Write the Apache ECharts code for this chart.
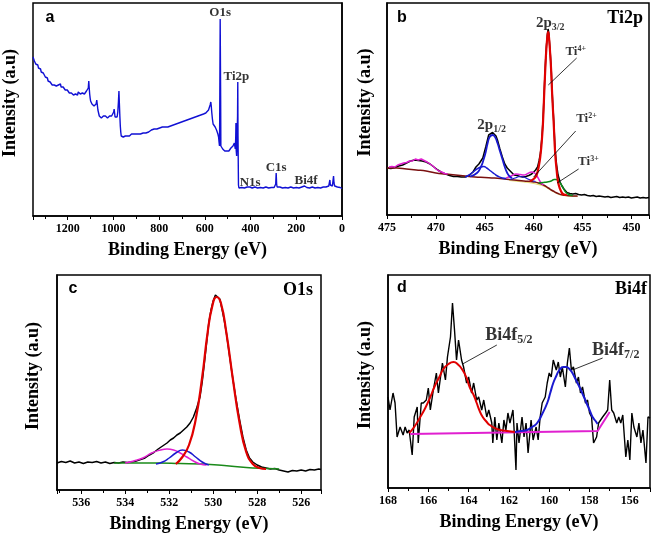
<!DOCTYPE html>
<html><head><meta charset="utf-8">
<script src="https://cdn.jsdelivr.net/npm/echarts@6/dist/echarts.min.js"></script>
<style>html,body{margin:0;padding:0;background:#fff}#c{width:653px;height:537px}</style>
</head><body><div id="c"></div>
<script>
// ---------- DATA (binding energy eV, intensity a.u.) ----------
const surveyData = [
[1352,159],[1349,157],[1346,155],[1343,156],[1340,152],[1337,153],[1334,150],[1331,151],[1328,148],[1325,149],[1322,146],[1319,147],[1316,144],[1313,145],[1310,142],[1307,143],[1304,141],[1301,142],[1298,139],[1295,140],[1292,137],[1289,138],[1286,135],[1283,136],[1280,133],[1277,134],[1274,132],[1271,133],[1268,131],[1265,132],[1262,130],[1259,131],[1256,129],[1253,131],[1250,130],[1247,132],[1244,130],[1241,131],[1238,129],[1235,130],[1232,132],[1229,129],[1226,131],[1223,128],[1220,129],[1217,127],[1214,128],[1211,126],[1208,127],[1205,125],[1202,126],[1199,124],[1196,125],[1193,123],[1190,124],[1187,122],[1184,123],[1181,121],[1178,122],[1175,121],[1172,123],[1169,121],[1166,122],[1163,121],[1160,123],[1157,121],[1154,124],[1151,122],[1148,125],[1145,122],[1142,124],[1139,122],[1136,123],[1133,121],[1130,123],[1127,122],[1124,124],[1121,123],[1118,125],[1115,124],[1112,126],[1110,128],[1108,135],[1106,128],[1104,122],[1102,118],[1100,115],[1097,113],[1094,112],[1091,111],[1088,112],[1085,110],[1082,111],[1079,110],[1076,112],[1073,116],[1071,112],[1068,106],[1065,103],[1062,100],[1059,99],[1056,100],[1053,98],[1050,99],[1047,98],[1044,100],[1041,99],[1038,98],[1035,100],[1032,98],[1029,99],[1026,98],[1023,100],[1020,99],[1017,100],[1014,99],[1011,101],[1008,100],[1005,102],[1002,101],[999,104],[997,107],[995,103],[993,99],[990,98],[987,97],[984,99],[981,104],[978,115],[976,125],[974,112],[972,100],[970,90],[968,84],[966,80],[963,79],[960,78],[957,79],[954,77],[951,78],[948,80],[945,78],[942,79],[939,80],[936,79],[933,81],[930,80],[927,81],[924,80],[921,82],[918,81],[915,80],[912,82],[909,81],[906,83],[903,82],[900,81],
[894,82],[888,83],[882,82],[876,84],[870,83],[864,84],[858,83],[852,85],[846,84],[840,85],[834,86],[828,85],[822,87],[816,86],[810,87],[804,86],[798,88],[792,87],[786,89],[780,88],[774,89],[768,90],[762,89],[756,91],[750,90],[744,92],[738,91],[732,93],[726,92],[720,94],[714,93],[708,95],[702,94],[696,96],[690,95],[684,97],[678,96],[672,98],[666,97],[660,99],[654,98],[648,100],[642,99],[636,101],[630,100],[624,102],[618,101],[612,103],[606,102],[600,104],[596,103],[592,105],[588,104],[584,106],[580,108],[577,111],[574,114],[572,110],[570,104],[567,97],[564,92],[561,90],[558,91],[555,89],[552,88],[549,86],[546,84],[543,82],[540,79],[538,74],[536,70],[535,100],[533,197],[531,120],[530,70],[528,68],[525,69],[522,67],[519,66],[516,67],[513,65],[510,66],[507,64],[504,65],[501,64],[498,66],[495,65],[492,67],[489,66],[486,68],[483,67],[480,69],[477,70],[474,71],[471,73],[469,72],[467,67],[465,78],[464,93],[463,66],[461,60],[459,62],[457,100],[456,134],[455,80],[453,31],[451,28],[447,29],[443,28],[439,28.5],[435,28],[431,29],[427,28],[423,28.5],[419,28],[415,29],[411,28],[407,28.5],[403,29],[400,31],[397,29],[393,28],[389,28.5],[385,28],[381,29],[377,28],[373,28.5],[369,28],[365,29],[361,28],[357,28.5],[353,28],[349,29],[345,28],[341,28.5],[337,28],[333,29],[329,28],[325,28.5],[321,28],[317,29],[313,28],[309,28.5],[305,28],[301,29],[297,28.5],[293,29],[290,32],[288,43],[286,32],[284,29],[280,28.5],[276,28],[272,29],[268,28],[264,28.5],[260,28],[256,29],[252,28],[248,28.5],[244,28],[240,29],[236,28],[232,28.5],[228,28],[224,29],[220,28],[216,28.5],[212,28],[208,29],[204,28],[200,28.5],[196,28],[192,29],[188,28],[184,28.5],[180,28],[176,29],[172,28.5],[168,29],[164,30],[161,31],[158,29],[154,28.5],[150,28],[146,29],[142,28],[138,28.5],[134,28],[130,29],[126,28],[122,28.5],[118,28],[114,29],[110,28],[106,28.5],[102,28],[98,29],[94,28],[90,28.5],[86,28],[82,29],[78,28],[74,28.5],[70,29],[66,28.5],[62,29],[58,30],[55,31],[53,36],[51,31],[48,30],[45,31],[42,30],[39,32],[37,40],[35,33],[32,30],[28,29],[24,29.5],[20,29],[16,28.5],[12,28],[8,28.5],[4,27.5],[0,27.5]
];
const surveyLabels = [["O1s",533,203],["Ti2p",462,139],["N1s",402,33],["C1s",288,48],["Bi4f",157,35]];

const ti2pRaw = [
[475.0,47],[474.8,47.5],[474.6,46.5],[474.4,48],[474.2,47.5],[474.0,48.5],[473.8,49],[473.6,50.5],[473.4,50],[473.2,51.5],[473.0,52],[472.8,52.5],[472.6,54],[472.4,53.5],[472.2,55],[472.0,55.5],[471.8,54.5],[471.6,55.5],[471.4,54],[471.2,54.5],[471.0,53],[470.8,52],[470.6,51],[470.4,49],[470.2,48],[470.0,46.5],[469.8,45],[469.6,44],[469.4,42.5],[469.2,42],[469.0,41],[468.8,40],[468.6,39.5],[468.4,39],[468.2,38.5],[468.0,38],[467.8,38.5],[467.6,37.5],[467.4,38],[467.2,38.5],[467.0,38],[466.8,39],[466.6,39.5],[466.4,41],[466.2,43],[465.9,48],[465.6,51],[465.4,53],[465.2,57],[464.9,68],[464.6,80],[464.4,82],[464.2,82.5],[464.0,82],[463.85,79],[463.7,75],[463.45,66],[463.2,58],[462.95,51],[462.7,47],[462.4,44],[462.0,40],[461.7,39.5],[461.4,38.5],[461.1,38],[460.8,38.5],[460.5,39.5],[460.2,41],[460.0,43],[459.8,45],[459.6,48],[459.45,54],[459.3,62],[459.15,78],[459.04,95],[458.9,128],[458.8,150],[458.7,168],[458.6,180],[458.52,186],[458.45,182],[458.3,162],[458.2,145],[458.13,128],[458.05,112],[457.95,95],[457.8,65],[457.65,50],[457.5,40],[457.3,33],[457.1,29],[456.9,26],[456.6,22.5],[456.3,21.5],[456.0,21],[455.7,21.5],[455.4,20.5],[455.1,20],[454.8,20.5],[454.5,19.5],[454.2,19],[453.9,19.5],[453.6,18.5],[453.3,19],[453.0,18.5],[452.7,18],[452.4,18.5],[452.1,17.5],[451.8,18],[451.5,18.5],[451.2,17.5],[450.9,18],[450.6,17.5],[450.3,18],[450.0,17],[449.7,17.5],[449.4,18],[449.1,17],[448.8,17.5],[448.5,17],[448.2,17.5]
];
const ti2pBackground = [[475,47],[474,47],[473,46],[472,45],[471,44],[470,42],[469,41],[468,40],[467,39],[466,38],[465,37.5],[464,37],[463,36],[462,35],[461,34],[460,33],[459.5,32],[459,30],[458.5,27],[458,24],[457.5,21.5],[457,20],[456,19],[455.5,19]];
const ti2pSatellite = [[474.8,48],[474.5,48.5],[474.2,48],[473.9,50],[473.6,51],[473.3,52],[473.0,52.5],[472.7,54],[472.4,54],[472.1,56],[471.8,55],[471.5,56],[471.2,54.5],[470.9,53],[470.6,51],[470.3,49],[470.0,46],[469.7,44],[469.4,43],[469.1,41.5],[468.8,41]];
const ti2pMagenta = [[462.8,37],[462.3,39],[461.8,41],[461.4,40.5],[461.0,40],[460.6,41.5],[460.2,43],[459.9,42],[459.6,38],[459.3,33],[459.0,30]];
const ti2pBlueMain = [[466.5,38.5],[465.8,42],[465.4,48],[465.1,56],[464.9,63],[464.7,72],[464.5,78],[464.2,80],[463.95,78],[463.7,72],[463.45,64],[463.2,56],[462.95,48],[462.7,42],[462.45,38.5],[462.2,37]];
const ti2pBlueSmall = [[467.0,38],[466.6,40],[466.2,43],[465.8,46],[465.4,48],[465.1,48.5],[464.8,47],[464.4,44],[464.0,41],[463.6,38.5],[463.2,37],[462.8,36.5]];
const ti2pBlueTi3 = [[462.4,35.5],[461.9,37],[461.4,38.5],[461.0,38],[460.6,36],[460.2,34.5],[459.8,33.5]];
const ti2pRed = [[460.4,34],[460.0,36],[459.7,40],[459.45,50],[459.3,60],[459.15,76],[459.04,93],[458.9,126],[458.8,148],[458.7,166],[458.6,178],[458.52,183],[458.45,180],[458.3,160],[458.2,143],[458.13,126],[458.05,110],[457.95,92],[457.8,62],[457.65,45],[457.5,33],[457.3,26],[457.1,22],[456.9,20.5],[456.6,20]];
const ti2pGreen = [[459.5,32],[459.0,32.5],[458.6,33],[458.2,34],[457.9,35.5],[457.7,35.5],[457.4,33.5],[457.1,29],[456.8,24],[456.5,21],[456.0,19.5]];
const ti2pYellow = [[462.5,34.5],[461,33],[460,31.5],[459,29],[458,23.5],[457,19.5],[455.5,18.5]];

const o1sRaw = [[537.1,27],[536.9,28.5],[536.7,27.5],[536.5,29],[536.3,27],[536.1,28],[535.9,26.5],[535.7,28],[535.5,27.5],[535.3,28.5],[535.1,27],[534.9,28],[534.7,26.5],[534.5,27.5],[534.3,27],[534.1,28],[533.9,27.5],[533.7,28],[533.5,29],[533.3,30.5],[533.1,32],[532.9,35],[532.7,37.5],[532.5,41],[532.3,44],[532.1,47],[531.95,50],[531.8,52],[531.65,55],[531.5,57],[531.35,60],[531.2,63],[531.05,67],[530.9,73],[530.75,82],[530.6,93],[530.5,108],[530.4,127],[530.3,147],[530.2,167],[530.1,180],[530.0,189],[529.9,195],[529.82,197],[529.7,191],[529.6,181],[529.5,170],[529.4,157],[529.25,133],[529.1,110],[528.95,89],[528.8,70],[528.65,53],[528.5,40],[528.35,32],[528.2,28],[528.0,25],[527.8,23],[527.6,22],[527.4,21],[527.2,21.5],[527.0,20],[526.8,19],[526.6,18],[526.4,19.5],[526.2,19],[526.0,20],[525.8,19],[525.6,20.5],[525.4,20],[525.2,21],[525.1,20.5]];
const o1sRed = [[531.7,26],[531.4,33],[531.1,45],[530.8,70],[530.5,113],[530.25,158],[530.05,183],[529.85,193],[529.65,187],[529.4,157],[529.1,110],[528.8,67],[528.5,38],[528.2,26],[527.9,22],[527.6,21]];
const o1sMagenta = [[534.0,27],[533.6,29],[533.2,32],[532.8,37],[532.4,40],[532.1,41],[531.8,40],[531.5,37],[531.2,33],[530.9,29],[530.6,26],[530.3,25]];
const o1sBlue = [[532.6,26],[532.3,28],[532.0,32],[531.7,37],[531.4,40],[531.1,38],[530.8,33],[530.5,28],[530.2,25]];
const o1sGreen = [[534.5,27],[533.5,27],[532.5,27],[531.5,26.5],[530.5,26],[529.5,24.5],[528.5,22.5],[527.5,21.5],[527.0,21]];

const bi4fRaw = [[168.0,91],[167.9,78],[167.75,95],[167.65,85],[167.55,51],[167.4,61],[167.25,53],[167.15,61],[167.05,55],[166.95,58],[166.8,33],[166.7,71],[166.55,81],[166.5,45],[166.35,85],[166.25,85],[166.1,88],[166.0,100],[165.9,78],[165.75,98],[165.6,115],[165.5,95],[165.4,110],[165.3,125],[165.15,108],[165.05,131],[164.9,151],[164.8,185],[164.7,158],[164.6,128],[164.5,148],[164.35,128],[164.25,121],[164.1,105],[164.0,111],[163.85,95],[163.75,105],[163.6,88],[163.5,91],[163.35,78],[163.25,88],[163.1,71],[163.0,78],[162.85,65],[162.8,45],[162.7,71],[162.6,48],[162.5,65],[162.35,45],[162.25,68],[162.15,58],[162.05,75],[161.95,65],[161.8,78],[161.75,61],[161.65,18],[161.6,65],[161.5,45],[161.35,71],[161.25,51],[161.15,65],[161.05,35],[160.9,68],[160.8,48],[160.65,61],[160.55,48],[160.45,71],[160.35,85],[160.2,91],[160.1,105],[160.0,115],[159.9,111],[159.8,128],[159.65,118],[159.55,126],[159.45,111],[159.35,121],[159.2,101],[159.1,125],[159.0,140],[158.9,118],[158.8,121],[158.65,105],[158.55,111],[158.45,95],[158.35,101],[158.2,85],[158.1,88],[158.0,75],[157.9,71],[157.8,45],[157.65,51],[157.55,65],[157.45,68],[157.35,71],[157.2,75],[157.1,78],[157.0,108],[156.9,78],[156.8,75],[156.65,65],[156.55,71],[156.45,65],[156.35,73],[156.2,31],[156.1,48],[156.0,28],[155.9,75],[155.8,61],[155.65,51],[155.55,65],[155.45,45],[155.35,58],[155.2,25],[155.1,71],[155.0,70]];
const bi4fRed = [[166.95,55],[166.7,61],[166.4,71],[166.15,80],[165.9,91],[165.7,101],[165.45,111],[165.25,119],[165.0,124],[164.75,126],[164.5,123],[164.3,118],[164.1,110],[163.95,101],[163.75,93],[163.6,85],[163.45,77],[163.3,71],[163.1,66],[162.95,63],[162.6,59],[162.1,57],[161.7,56]];
const bi4fBlue = [[161.7,56],[161.4,57],[161.1,58],[160.85,61],[160.6,65],[160.35,74],[160.1,85],[159.95,95],[159.8,105],[159.65,112],[159.5,118],[159.3,121],[159.15,121],[159.0,119],[158.85,115],[158.7,109],[158.5,101],[158.3,92],[158.15,85],[158.0,78],[157.85,71],[157.7,67],[157.6,64]];
const bi4fBaseline = [[166.9,54],[157.6,57],[157.0,76]];

// annotations: [text-rich, x, y]
const ti2pLabels = [["{m|2p}{s|3/2}",458.3,192],["{m|2p}{s|1/2}",464.3,90],["{t|Ti}{p|4+}",455.7,163],["{t|Ti}{p|2+}",454.6,96],["{t|Ti}{p|3+}",454.4,53]];
const ti2pLeaders = [[[455.6,157],[458.5,130]],[[455.7,84],[460.0,38]],[[455.4,46],[457.6,32]]];
const bi4fLabels = [["{m|Bi4f}{s|5/2}",162.0,153],["{m|Bi4f}{s|7/2}",156.7,138]];
const bi4fLeaders = [[[164.3,124],[162.6,143]],[[158.85,118],[157.35,130]]];

// ---------- CHART ----------
const SERIF = '"Liberation Serif","DejaVu Serif",serif';
const chart = echarts.init(document.getElementById('c'), null, {renderer:'canvas'});
const grids = [
  {left:33, top:3, width:309, height:213},
  {left:387, top:3, width:262, height:212},
  {left:57, top:275, width:264, height:215},
  {left:388, top:275, width:263, height:213}
];
const xr = [[0,1352,7,200],[448.2,475,5,5],[525.1,537.1,6,2],[155,168,6,2]];
const ymax = [213,212,215,213];
const ynameGap = [14,13,15,14];

function xAxis(i){
  return {gridIndex:i, type:'value', inverse:true, min:xr[i][0], max:xr[i][1], splitNumber:xr[i][2],
    name:'Binding Energy (eV)', nameLocation:'middle', nameGap:25,
    nameTextStyle:{fontFamily:SERIF, fontWeight:'bold', fontSize:18, color:'#000'},
    axisLine:{show:true, onZero:false, lineStyle:{color:'#000', width:1.5}},
    axisTick:{show:true, length:4, lineStyle:{color:'#000', width:1}},
    minorTick:{show:true, splitNumber:2, length:3, lineStyle:{color:'#000', width:1}},
    splitLine:{show:false}, minorSplitLine:{show:false},
    axisLabel:{fontFamily:SERIF, fontWeight:'bold', fontSize:12, color:'#000', margin:7,
      formatter:(v)=> (Math.abs(v/xr[i][3]-Math.round(v/xr[i][3]))<1e-6 ? String(Math.round(v)) : '')}
  };
}
function yAxis(i){
  return {gridIndex:i, type:'value', min:0, max:ymax[i],
    name:'Intensity (a.u)', nameLocation:'middle', nameGap:ynameGap[i], nameRotate:90,
    nameTextStyle:{fontFamily:SERIF, fontWeight:'bold', fontSize:18, color:'#000', padding:[0,0,0,13]},
    axisLine:{show:true, lineStyle:{color:'#000', width:1.5}},
    axisTick:{show:false}, axisLabel:{show:false}, splitLine:{show:false}};
}
function ln(i, data, color, width, z, smooth){
  return {type:'line', xAxisIndex:i, yAxisIndex:i, data:data, symbol:'none', smooth:smooth||false,
    lineStyle:{color:color, width:width}, z:z||2, silent:true, animation:false};
}
const rich = {
  m:{fontFamily:SERIF, fontWeight:'bold', fontSize:15, color:'#000'},
  s:{fontFamily:SERIF, fontWeight:'bold', fontSize:10, color:'#000', verticalAlign:'bottom', padding:[8,0,0,0]},
  t:{fontFamily:SERIF, fontWeight:'bold', fontSize:13, color:'#000'},
  p:{fontFamily:SERIF, fontWeight:'bold', fontSize:8, color:'#000', verticalAlign:'top', padding:[0,0,7,0]}
};
const richBi = Object.assign({}, rich, {
  m:{fontFamily:SERIF, fontWeight:'bold', fontSize:18, color:'#000'},
  s:{fontFamily:SERIF, fontWeight:'bold', fontSize:12, color:'#000', verticalAlign:'bottom', padding:[9,0,0,0]}
});
function labels(i, arr, richStyle, fs){
  return {type:'scatter', xAxisIndex:i, yAxisIndex:i, symbolSize:1, itemStyle:{color:'rgba(0,0,0,0)'},
    silent:true, animation:false, z:10,
    data: arr.map(a=>({value:[a[1],a[2]], label:{show:true, position:'inside', formatter:a[0],
      fontFamily:SERIF, fontWeight:'bold', fontSize:fs||13, color:'#000', rich:richStyle||{}}}))};
}
const series = [];
series.push(ln(0, surveyData, '#1010d4', 1.4, 2));
series.push(labels(0, surveyLabels, null, 13));
// Ti2p
series.push(ln(1, ti2pRaw, '#000', 1.5, 2));
series.push(ln(1, ti2pYellow, '#e6dc78', 1.2, 3, true));
series.push(ln(1, ti2pBackground, '#7a1010', 1.5, 4, true));
series.push(ln(1, ti2pSatellite, '#e020d0', 1.5, 5));
series.push(ln(1, ti2pMagenta, '#e020d0', 1.5, 5, true));
series.push(ln(1, ti2pBlueSmall, '#1a1ad0', 1.5, 5, true));
series.push(ln(1, ti2pBlueTi3, '#1a1ad0', 1.2, 5, true));
series.push(ln(1, ti2pBlueMain, '#1a1ad0', 1.8, 6, true));
series.push(ln(1, ti2pGreen, '#0a8a1a', 1.5, 6, true));
series.push(ln(1, ti2pRed, '#e00000', 2.2, 7, true));
ti2pLeaders.forEach(l=>series.push(ln(1, l, '#000', 0.8, 9)));
series.push(labels(1, ti2pLabels, rich, 15));
// O1s
series.push(ln(2, o1sRaw, '#000', 1.5, 2));
series.push(ln(2, o1sGreen, '#1a8a1a', 1.5, 4, true));
series.push(ln(2, o1sMagenta, '#e020d0', 1.5, 5, true));
series.push(ln(2, o1sBlue, '#1a1ad0', 1.5, 5, true));
series.push(ln(2, o1sRed, '#e00000', 2.2, 6, true));
// Bi4f
series.push(ln(3, bi4fRaw, '#000', 1.4, 2));
series.push(ln(3, bi4fBaseline, '#e020d0', 2, 4));
series.push(ln(3, bi4fRed, '#e00000', 2, 5, true));
series.push(ln(3, bi4fBlue, '#1a1ad0', 2, 5, true));
bi4fLeaders.forEach(l=>series.push(ln(3, l, '#000', 0.8, 9)));
series.push(labels(3, bi4fLabels, richBi, 18));

const letters = [["a",50,18,"left"],["b",402,18,"left"],["c",73,289,"left"],["d",402,288,"left"]];
const corner = [["Ti2p",643,18],["O1s",313,290],["Bi4f",647,289]];
const graphic = [];
letters.forEach(l=>graphic.push({type:'text', x:l[1], y:l[2], style:{text:l[0], fill:'#000',
  font:'bold 16px "Liberation Sans", Arial, sans-serif', textAlign:'center', textVerticalAlign:'middle'}, z:20}));
corner.forEach(l=>graphic.push({type:'text', x:l[1], y:l[2], style:{text:l[0], fill:'#000',
  font:'bold 18px "Liberation Serif", serif', textAlign:'right', textVerticalAlign:'middle'}, z:20}));

chart.setOption({
  animation:false,
  backgroundColor:'#fff',
  grid: grids.map(g=>Object.assign({show:true, borderColor:'#000', borderWidth:1.5, backgroundColor:'transparent'}, g)),
  xAxis:[0,1,2,3].map(xAxis),
  yAxis:[0,1,2,3].map(yAxis),
  series:series,
  graphic:graphic
});
</script></body></html>
